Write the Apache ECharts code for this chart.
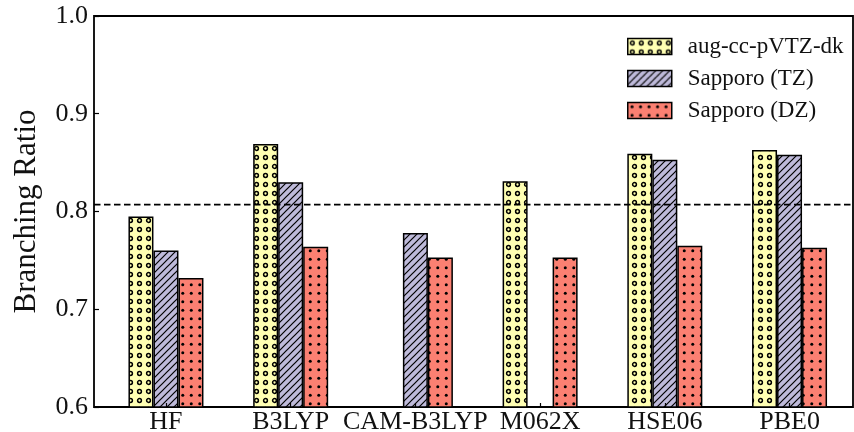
<!DOCTYPE html>
<html>
<head>
<meta charset="utf-8">
<script src="https://cdn.jsdelivr.net/npm/echarts@6/dist/echarts.min.js"></script>
<style>
  html, body { margin: 0; padding: 0; background: #fff; }
  #chart { width: 854px; height: 432px; }
</style>
</head>
<body>
<div id="chart"></div>
<script>
// Branching ratios per functional and basis set
const functionals = ['HF', 'B3LYP', 'CAM-B3LYP', 'M062X', 'HSE06', 'PBE0'];
const seriesNames = ['aug-cc-pVTZ-dk', 'Sapporo (TZ)', 'Sapporo (DZ)'];
const augTZdk = [0.795, 0.869, null, 0.831, 0.859, 0.863];
const sapporoTZ = [0.760, 0.830, 0.778, null, 0.853, 0.858];
const sapporoDZ = [0.732, 0.764, 0.753, 0.753, 0.765, 0.763];
const referenceRatio = 0.807;
const yTicks = [0.6, 0.7, 0.8, 0.9, 1.0];

const FONT = 'Liberation Serif';

// Hatch fills painted onto small canvases and used as repeating patterns
function makeTile(size, bg, draw) {
  const c = document.createElement('canvas');
  c.width = size; c.height = size;
  const ctx = c.getContext('2d');
  ctx.fillStyle = bg;
  ctx.fillRect(0, 0, size, size);
  draw(ctx, size);
  return { image: c, repeat: 'repeat' };
}

// small rings
const ringFill = makeTile(18, '#ffffb3', function (ctx, s) {
  ctx.strokeStyle = '#000';
  ctx.lineWidth = 1.5;
  const step = s / 2;
  for (let i = 0; i < 2; i++) {
    for (let j = 0; j < 2; j++) {
      ctx.beginPath();
      ctx.arc(step / 2 + i * step, step / 2 + j * step, 1.9, 0, Math.PI * 2);
      ctx.stroke();
    }
  }
});

// forward diagonal hatch
const hatchFill = makeTile(7, '#bebada', function (ctx, s) {
  ctx.strokeStyle = '#000';
  ctx.lineWidth = 1.2;
  ctx.beginPath();
  ctx.moveTo(-1, s + 1); ctx.lineTo(s + 1, -1);
  ctx.moveTo(-1, 1); ctx.lineTo(1, -1);
  ctx.moveTo(s - 1, s + 1); ctx.lineTo(s + 1, s - 1);
  ctx.stroke();
});

// small dots
const dotFill = makeTile(17, '#fb8072', function (ctx, s) {
  ctx.fillStyle = '#000';
  const step = s / 2;
  for (let i = 0; i < 2; i++) {
    for (let j = 0; j < 2; j++) {
      ctx.beginPath();
      ctx.arc(step / 2 + i * step, step / 2 + j * step, 1.5, 0, Math.PI * 2);
      ctx.fill();
    }
  }
});

const fills = [ringFill, hatchFill, dotFill];
const values = [augTZdk, sapporoTZ, sapporoDZ];

const chart = echarts.init(document.getElementById('chart'), null, { renderer: 'canvas' });

const plotTop = 16, plotBottom = 432 - 407;

const option = {
  animation: false,
  backgroundColor: '#fff',
  textStyle: { fontFamily: FONT, color: '#000' },
  grid: [
    // frame
    { left: 94, right: 1, top: plotTop, bottom: plotBottom, show: true,
      borderColor: '#000', borderWidth: 1.8, backgroundColor: 'transparent',
      containLabel: false, outerBoundsMode: 'none' },
    // bar categories
    { left: 103.6, right: 854 - 851.9, top: plotTop, bottom: plotBottom,
      containLabel: false, outerBoundsMode: 'none' }
  ],
  xAxis: [
    { gridIndex: 0, type: 'value', min: 0, max: 1, show: false },
    { gridIndex: 1, type: 'category', data: functionals, z: 5,
      axisLine: { show: false },
      axisTick: { show: true, inside: true, alignWithLabel: true, length: 4,
        lineStyle: { color: '#000', width: 1.2 } },
      axisLabel: { fontFamily: FONT, fontSize: 26, color: '#111', margin: 2, interval: 0 },
      splitLine: { show: false } }
  ],
  yAxis: [
    { gridIndex: 0, type: 'value', min: yTicks[0], max: yTicks[yTicks.length - 1], interval: 0.1, z: 5,
      name: 'Branching Ratio', nameLocation: 'middle', nameGap: 52, nameRotate: 90,
      nameTextStyle: { fontFamily: FONT, fontSize: 31, color: '#111' },
      axisLine: { show: false },
      axisTick: { show: true, inside: true, length: 5, lineStyle: { color: '#000', width: 1.2 } },
      axisLabel: { fontFamily: FONT, fontSize: 26, color: '#111', margin: 6,
        formatter: function (v) { return v.toFixed(1); } },
      splitLine: { show: false } },
    { gridIndex: 1, type: 'value', min: yTicks[0], max: yTicks[yTicks.length - 1], show: false }
  ],
  legend: {
    left: 622, top: 30, orient: 'vertical',
    itemWidth: 44, itemHeight: 16, itemGap: 9,
    textStyle: { fontFamily: FONT, fontSize: 23, color: '#111', padding: [0, 0, 0, 11] },
    data: seriesNames.map(function (n, i) {
      return { name: n, icon: 'rect',
        itemStyle: { color: fills[i], borderColor: '#000', borderWidth: 1.5 } };
    })
  },
  series: seriesNames.map(function (n, i) {
    return {
      name: n, type: 'bar', xAxisIndex: 1, yAxisIndex: 1,
      data: values[i], barWidth: 25, barGap: '0%',
      itemStyle: { color: fills[i], borderColor: '#000', borderWidth: 1.5 },
      emphasis: { disabled: true }
    };
  }).concat([{
    name: 'reference', type: 'line', xAxisIndex: 0, yAxisIndex: 0, z: 10,
    data: [[0, referenceRatio], [1, referenceRatio]],
    symbol: 'none', silent: true,
    lineStyle: { color: '#000', width: 1.6, type: [6.5, 3.5] }
  }])
};

chart.setOption(option);
</script>
</body>
</html>
